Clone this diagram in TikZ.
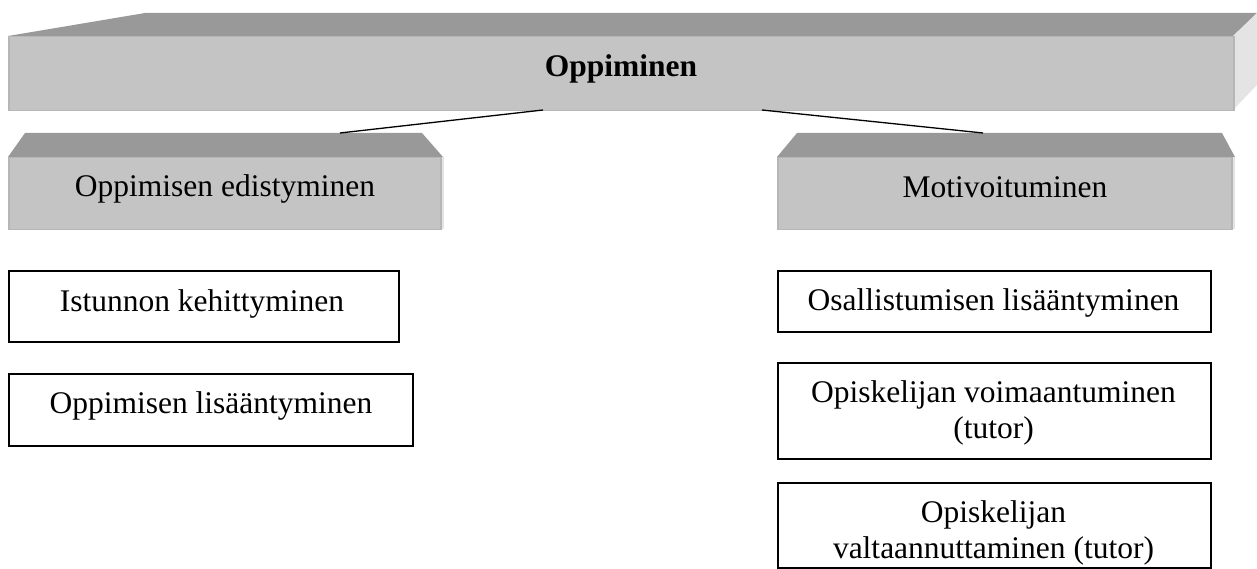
\documentclass[tikz,border=0pt]{standalone}
\usepackage{fontspec}
\setmainfont{Liberation Serif}
\definecolor{facefront}{HTML}{C4C4C4}
\definecolor{facetop}{HTML}{999999}
\definecolor{faceside}{HTML}{E4E4E4}
\definecolor{faceedge}{HTML}{B6B6B6}
\begin{document}
\begin{tikzpicture}[x=1pt,y=-1pt,
  front/.style={fill=facefront, draw=faceedge, line width=1.5pt, inner sep=0pt, anchor=north west},
  topface/.style={fill=facetop},
  sideface/.style={fill=faceside},
  txt/.style={inner sep=0pt, anchor=base, font=\fontsize{31.5}{36}\selectfont},
  itembox/.style={draw=black, line width=1.6pt, fill=white, inner sep=0pt, anchor=north west},
  link/.style={line width=1.3pt}]
\useasboundingbox (0,0) rectangle (1257,569);
\clip (0,0) rectangle (1257,569);

% main bevelled bar
\fill[topface] (8,36) -- (145,13) -- (1257,13) -- (1233,36) -- cycle;
\fill[sideface] (1233,36) -- (1257,13) -- (1257,85) -- (1233,110) -- cycle;
\node[front, minimum width=1225pt, minimum height=74pt] (main) at (8,36) {};
\node[txt] (mainlabel) at (621,77) {\bfseries Oppiminen};

% left category block
\fill[topface] (8,157) -- (25,133) -- (422,133) -- (443,157) -- cycle;
\fill[sideface] (440,157) rectangle (444,229);
\node[front, minimum width=432pt, minimum height=72pt] (progress) at (8,157) {};
\node[txt] (progresslabel) at (225,197) {Oppimisen edistyminen};

% right category block
\fill[topface] (777,157) -- (797,133) -- (1222,133) -- (1235,157) -- cycle;
\fill[sideface] (1231,157) rectangle (1235,229);
\node[front, minimum width=454pt, minimum height=72pt] (motiv) at (777,157) {};
\node[txt] (motivlabel) at (1005,198) {Motivoituminen};

% connectors from the main bar to the category blocks
\coordinate (mainL) at (543,110);
\coordinate (mainR) at (762,110);
\coordinate (progressTop) at (340,133);
\coordinate (motivTop) at (983,133);
\draw[link] (mainL) -- (progressTop);
\draw[link] (mainR) -- (motivTop);

% left items
\node[itembox, minimum width=390pt, minimum height=71pt] (session) at (8,270) {};
\node[txt] (sessionlabel) at (202,311) {Istunnon kehittyminen};
\node[itembox, minimum width=404pt, minimum height=72pt] (learning) at (8,373) {};
\node[txt] (learninglabel) at (211,413) {Oppimisen lisääntyminen};

% right items
\node[itembox, minimum width=433pt, minimum height=61pt] (particip) at (777,270) {};
\node[txt] (participlabel) at (993.5,310) {Osallistumisen lisääntyminen};
\node[itembox, minimum width=433pt, minimum height=96pt] (empower) at (777,362) {};
\node[txt] (empowerA) at (993.5,402) {Opiskelijan voimaantuminen};
\node[txt] (empowerB) at (993.5,438) {(tutor)};
\node[itembox, minimum width=433pt, minimum height=85pt] (authority) at (777,482) {};
\node[txt] (authorityA) at (993.5,522) {Opiskelijan};
\node[txt] (authorityB) at (993.5,558) {valtaannuttaminen (tutor)};
\end{tikzpicture}
\end{document}
